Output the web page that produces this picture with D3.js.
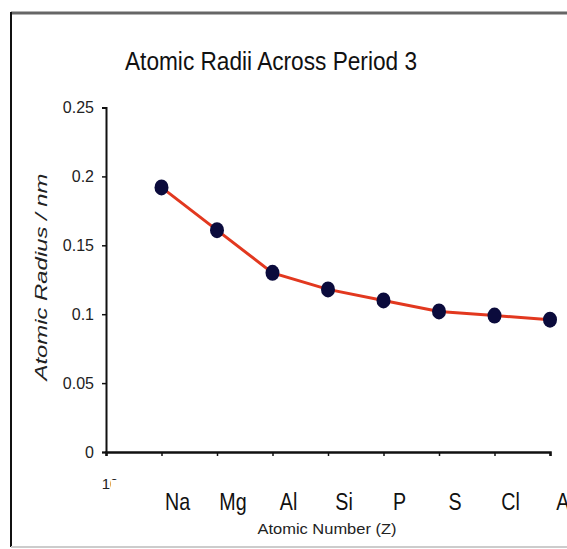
<!DOCTYPE html>
<html>
<head>
<meta charset="utf-8">
<script src="https://cdnjs.cloudflare.com/ajax/libs/d3/7.8.5/d3.min.js"></script>
<style>
  html, body { margin: 0; padding: 0; background: #fff; overflow: hidden; }
  svg { display: block; font-family: "Liberation Sans", Arial, sans-serif; }
</style>
</head>
<body>
<div id="chart"></div>
<script>
// Chart data
const elements = ['Na', 'Mg', 'Al', 'Si', 'P', 'S', 'Cl', 'Ar'];
const atomicNumbers = [11, 12, 13, 14, 15, 16, 17, 18];
const radii = [0.192, 0.161, 0.130, 0.118, 0.110, 0.102, 0.099, 0.096];
const yTicks = [0, 0.05, 0.1, 0.15, 0.2, 0.25];
const yTickLabels = ['0', '0.05', '0.1', '0.15', '0.2', '0.25'];
const xTicks = [10, 11, 12, 13, 14, 15, 16, 17, 18];

const width = 567, height = 549;

const svg = d3.select('#chart')
    .append('svg')
        .attr('width', width)
        .attr('height', height);

// Frame around the chart
svg.append('line')
    .attr('x1', 11).attr('x2', width).attr('y1', 13).attr('y2', 13)
    .attr('stroke', '#666').attr('stroke-width', 3);
svg.append('line')
    .attr('x1', 11).attr('x2', 11).attr('y1', 12).attr('y2', 547)
    .attr('stroke', '#111').attr('stroke-width', 2);
svg.append('line')
    .attr('x1', 11).attr('x2', width).attr('y1', 547).attr('y2', 547)
    .attr('stroke', '#ccc').attr('stroke-width', 2);

// Scales
const x = d3.scaleLinear().domain([10, 18]).range([106, 550]);
const y = d3.scaleLinear().domain([0, 0.25]).range([452, 107.5]);

// Title
svg.append('text')
    .attr('x', 271).attr('y', 70)
    .attr('text-anchor', 'middle')
    .attr('font-size', 26)
    .attr('textLength', 292)
    .attr('lengthAdjust', 'spacingAndGlyphs')
    .attr('fill', '#111')
    .text('Atomic Radii Across Period 3');

// Y axis
const yAxis = svg.append('g')
    .attr('transform', `translate(${x(10)},0)`)
    .call(d3.axisLeft(y).tickValues(yTicks).tickSize(4).tickPadding(8)
        .tickFormat((d, i) => yTickLabels[i]));
yAxis.select('.domain').attr('stroke', '#111').attr('stroke-width', 2);
yAxis.selectAll('.tick line').attr('stroke', '#111').attr('stroke-width', 1.5);
yAxis.selectAll('.tick text')
    .attr('font-size', 16)
    .attr('fill', '#222')
    .attr('font-family', '"Liberation Sans", sans-serif');

// X axis
const xAxis = svg.append('g')
    .attr('transform', `translate(0,${y(0)})`)
    .call(d3.axisBottom(x).tickValues(xTicks).tickSize(4).tickFormat(''));
xAxis.select('.domain').attr('stroke', '#111').attr('stroke-width', 2.5);
xAxis.selectAll('.tick line').attr('stroke', '#111').attr('stroke-width', 1.5);

// First numeric label, partly hidden under the element labels
svg.append('text')
    .attr('x', x(10) + 4).attr('y', 489)
    .attr('text-anchor', 'middle')
    .attr('font-size', 15)
    .attr('fill', '#222')
    .text('10');
svg.append('rect')
    .attr('x', x(10) + 5).attr('y', 480).attr('width', 14).attr('height', 14)
    .attr('fill', '#fff');

// Element labels (condensed)
svg.append('g').selectAll('g')
    .data(elements)
    .enter()
    .append('g')
        .attr('transform', (d, i) => `translate(${x(atomicNumbers[i]) + 16},510) scale(0.82,1)`)
    .append('text')
        .attr('text-anchor', 'middle')
        .attr('font-size', 24)
        .attr('fill', '#111')
        .text(d => d);

// Axis titles
svg.append('text')
    .attr('x', 327).attr('y', 534)
    .attr('text-anchor', 'middle')
    .attr('font-size', 14)
    .attr('textLength', 139)
    .attr('lengthAdjust', 'spacingAndGlyphs')
    .attr('fill', '#222')
    .text('Atomic Number (Z)');

svg.append('text')
    .attr('transform', 'translate(47,277) rotate(-90)')
    .attr('text-anchor', 'middle')
    .attr('font-size', 17)
    .attr('font-style', 'italic')
    .attr('textLength', 207)
    .attr('lengthAdjust', 'spacingAndGlyphs')
    .attr('fill', '#222')
    .text('Atomic Radius / nm');

// Line
const line = d3.line()
    .x((d, i) => x(atomicNumbers[i]))
    .y(d => y(d));

svg.append('path')
    .datum(radii)
    .attr('fill', 'none')
    .attr('stroke', '#e2381f')
    .attr('stroke-width', 3)
    .attr('d', line);

// Markers
svg.selectAll('ellipse')
    .data(radii)
    .enter()
    .append('ellipse')
        .attr('cx', (d, i) => x(atomicNumbers[i]))
        .attr('cy', d => y(d))
        .attr('rx', 7)
        .attr('ry', 8)
        .attr('fill', '#0b0b3c');
</script>
</body>
</html>
